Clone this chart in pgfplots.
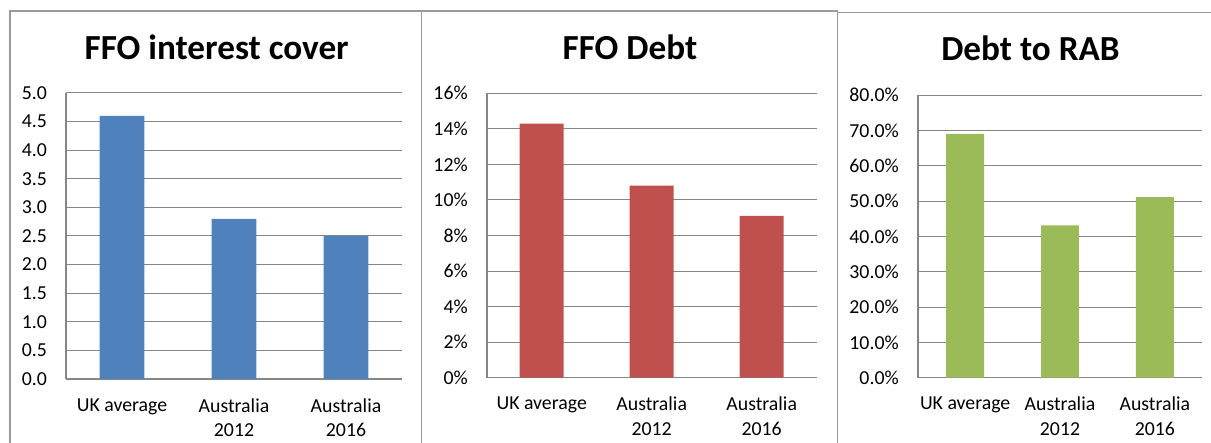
\documentclass[border=0pt]{standalone}
\usepackage{fontspec}
\setmainfont{Carlito}
\usepackage{pgfplots}
\pgfplotsset{compat=1.18}
\definecolor{xlblue}{HTML}{4F81BD}
\definecolor{xlred}{HTML}{C0504D}
\definecolor{xlgreen}{HTML}{9BBB59}
\definecolor{gridc}{HTML}{868686}
\definecolor{borderc}{HTML}{9A9A9A}
\pgfplotsset{panel/.style={
  scale only axis, anchor=south west, enlargelimits=false,
  xmin=-0.5, xmax=2.5, xtick={0,1,2},
  xticklabels={UK average, Australia\\2012, Australia\\2016},
  major tick length=0pt,
  axis x line*=bottom, axis y line*=left,
  axis line style={gridc, line width=0.8pt},
  ymajorgrids, grid style={gridc, line width=0.5pt},
  ticklabel style={font=\fontsize{9.9}{12.2}\selectfont},
  xticklabel style={anchor=north, inner sep=0pt, yshift=-9.5pt, align=center},
  yticklabel style={anchor=east, inner sep=0pt, xshift=-9.3pt},
  every axis title shift=0pt,
  title style={anchor=base, font=\fontsize{17.6}{20}\selectfont\bfseries, inner sep=0pt},
  ybar, bar width=0.4,
}}
\begin{document}
\begin{tikzpicture}
\path[use as bounding box] (0,0) rectangle (605.5pt,221.5pt);
% panel borders
\draw[borderc, line width=0.6pt] (5pt,0) -- (5pt,216pt) -- (419pt,216pt);
\draw[borderc, line width=0.6pt] (418.75pt,215.25pt) -- (605.5pt,215.25pt);
\draw[borderc, line width=0.6pt] (210.85pt,0) -- (210.85pt,216pt);
\draw[borderc, line width=0.6pt] (418.75pt,0) -- (418.75pt,216pt);

\begin{axis}[panel, at={(33pt,32pt)}, width=168pt, height=143pt,
  ymin=0, ymax=5,
  ytick={0,0.5,1,1.5,2,2.5,3,3.5,4,4.5,5},
  yticklabels={0.0,0.5,1.0,1.5,2.0,2.5,3.0,3.5,4.0,4.5,5.0},
  title={FFO interest cover}, title style={at={(0.4485,1.1178)}}]
\addplot[fill=xlblue, draw=none] coordinates {(0,4.6) (1,2.8) (2,2.5)};
\end{axis}

\begin{axis}[panel, at={(243.35pt,32.65pt)}, width=165pt, height=142.2pt,
  ymin=0, ymax=16,
  ytick={0,2,4,6,8,10,12,14,16},
  yticklabels={0\%,2\%,4\%,6\%,8\%,10\%,12\%,14\%,16\%},
  title={FFO Debt}, title style={at={(0.4342,1.1195)}}]
\addplot[fill=xlred, draw=none] coordinates {(0,14.3) (1,10.8) (2,9.1)};
\end{axis}

\begin{axis}[panel, at={(458.85pt,32.65pt)}, width=142.3pt, height=141.35pt,
  ymin=0, ymax=80,
  ytick={0,10,20,30,40,50,60,70,80},
  yticklabels={0.0\%,10.0\%,20.0\%,30.0\%,40.0\%,50.0\%,60.0\%,70.0\%,80.0\%},
  title={Debt to RAB}, title style={at={(0.3963,1.1203)}}]
\addplot[fill=xlgreen, draw=none] coordinates {(0,69.0) (1,43.1) (2,51.1)};
\end{axis}
\end{tikzpicture}
\end{document}
